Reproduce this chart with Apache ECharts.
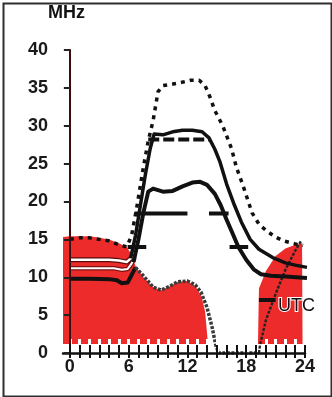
<!DOCTYPE html>
<html><head><meta charset="utf-8">
<script src="https://cdn.jsdelivr.net/npm/echarts@6.0.0/dist/echarts.min.js"></script>
<style>html,body{margin:0;padding:0;background:#fff}#c{width:332px;height:397px}</style>
</head><body><div id="c"></div>
<script>
// ---- axes ----
const xLabelValues = [0, 6, 12, 18, 24];
const hourTicks = [0,1,2,3,4,5,6,7,8,9,10,11,12,13,14,15,16,17,18,19,20,21,22,23,24];
const yMin = 0, yMax = 40, yStep = 5;

// ---- red filled region (UTC hour, MHz) ----
const redArea = [[-0.7,15.3],[0,15.4],[2,15.4],[3,15.2],[4,15],[5,14.5],[5.8,14],[6.3,13],[6.7,11.5],[7.5,10],[8.5,8.7],[9.3,8.3],[10.2,8.8],[11,9.4],[12,9.5],[12.8,8.8],[13.4,7.6],[13.8,5.5],[14.1,1.2],[14.5,null],
  [19.2,1.2],[19.3,8.5],[20,10.8],[21,12.8],[22,13.8],[23,14.3],[23.7,14.5],[23.75,1.2]];

// ---- curves ----
const dottedTop = [[0,15],[1,15.2],[2,15.2],[3,15],[4,14.8],[5,14.3],[5.8,14],[6.3,15.5],[6.8,19],[7.5,24.5],[8.0,28],[8.5,30.7],[9,34.5],[9.5,35.3],[10.5,35.5],[11.3,35.7],[12.3,36],[13.2,36],[13.8,35.3],[14.3,33.8],[14.8,32],[15.6,30],[16.5,27],[17,24.5],[17.7,22],[18.6,18.5],[19.3,17],[20.1,16.1],[21,15.3],[21.8,14.8],[23,14.4],[23.8,14.2]];
const solidUpper = [[6.2,12.5],[6.7,15.5],[7.2,19.5],[7.7,23.5],[8.2,27],[8.6,28.9],[9.5,28.8],[10.5,29.2],[11.5,29.4],[12.5,29.4],[13.5,29.2],[14.2,28.4],[14.8,26.9],[15.3,25.3],[16,22.3],[16.8,19.5],[17.5,17.3],[18.4,15],[19.3,13.7],[20.7,12.6],[22,11.9],[23,11.6],[24.2,11.3]];
const solidMiddle = [[6.5,12],[7,15],[7.5,18.5],[8,21.3],[8.5,21.7],[9.5,21.3],[10.5,21.4],[11.5,22],[12.5,22.5],[13.3,22.6],[14,22.2],[14.8,21],[15.4,19.5],[16,17.6],[16.6,15.8],[17.2,14],[18,12.3],[18.8,11],[19.5,10.4],[20.5,10.2],[22,10.1],[24.2,9.9]];
const whiteUpper = [[0,12.3],[2,12.3],[4,12.3],[5,12.2],[5.8,12],[6.3,12.6],[6.6,13.4]];
const whiteLower = [[0,11.2],[2,11.2],[4.5,11.2],[5.3,11],[5.9,11.1],[6.3,11.8],[6.6,12.6]];
const nightBlack = [[0,9.8],[2,9.8],[4,9.75],[4.8,9.6],[5.3,9.2],[5.9,9.3],[6.3,10.3],[6.7,11.3]];
const grayDotted = [[6.7,11.3],[7.5,10.2],[8.5,8.7],[9.3,8.3],[10.2,8.8],[11,9.4],[12,9.5],[12.8,9],[13.4,8],[14,6],[14.5,3.5],[14.9,1],[15.2,0],[17,0],[19.3,0]];
const risingThin = [[19.3,0],[19.4,1],[20,4.3],[21,7.8],[22,11],[23,13.5],[23.6,14.8]];

// ---- thick horizontal step segments [from hour, to hour, MHz] ----
const steps28 = [[8.0,14.3,28.2]];
const steps18 = [[6.6,12.0,18.4],[14.2,16.2,18.4]];
const steps14 = [[5.9,7.8,14.0],[16.3,18.2,14.0]];
const steps7  = [[19.3,21.0,7.0]];

function segData(segs){
  const out = [];
  segs.forEach((s,i)=>{ if(i) out.push([ (segs[i-1][1]+s[0])/2, null ]); out.push([s[0],s[2]],[s[1],s[2]]); });
  return out;
}

const BLACK = '#111';
const font = '"Liberation Sans", Arial, sans-serif';
function line(data, style, z){
  return {type:'line', data, showSymbol:false, symbol:'none', connectNulls:false, z:z||3,
    lineStyle:Object.assign({color:BLACK, width:3.5, cap:'butt', join:'round'}, style), silent:true};
}

const chart = echarts.init(document.getElementById('c'), null, {renderer:'canvas'});
chart.setOption({
  animation:false,
  backgroundColor:'#fff',
  grid:{left:63, right:27, top:50, bottom:44},
  xAxis:[
    {type:'value', min:-0.7, max:24, position:'bottom', z:10,
     axisLine:{onZero:false, lineStyle:{color:BLACK, width:2.5}},
     axisTick:{customValues:hourTicks, inside:false, length:5, lineStyle:{color:BLACK, width:2}},
     axisLabel:{customValues:xLabelValues, margin:5, fontFamily:font, fontWeight:'bold', fontSize:18, color:'#1a1a1a'},
     splitLine:{show:false}},
    {type:'value', min:-0.7, max:24, position:'bottom', z:8,
     axisLine:{show:false}, axisLabel:{show:false}, splitLine:{show:false},
     axisTick:{customValues:hourTicks, inside:true, length:14, lineStyle:{color:'#fff', width:3}}},
    {type:'value', min:-0.7, max:24, position:'bottom', z:11,
     axisLine:{show:false}, axisLabel:{show:false}, splitLine:{show:false},
     axisTick:{customValues:hourTicks, inside:true, length:8, lineStyle:{color:BLACK, width:2}}}
  ],
  yAxis:[
    {type:'value', min:yMin, max:yMax, interval:yStep, z:10,
     axisLine:{show:true, onZero:true, onZeroAxisIndex:0, lineStyle:{color:'#3a0c0c', width:2}},
     axisTick:{inside:false, length:6, lineStyle:{color:'#222', width:2}},
     axisLabel:{margin:15, fontFamily:font, fontWeight:'bold', fontSize:18, color:'#1a1a1a'},
     splitLine:{show:false}},
    {type:'value', min:yMin, max:yMax, interval:yStep, z:10,
     axisLine:{show:false, onZero:true, onZeroAxisIndex:0},
     axisTick:{inside:true, length:5, lineStyle:{color:'#222', width:2}},
     axisLabel:{show:false}, splitLine:{show:false}}
  ],
  series:[
    {type:'line', data:redArea, symbol:'none', connectNulls:false, z:1, silent:true,
     lineStyle:{width:0}, areaStyle:{color:'#ee2b2b', opacity:1, origin:1.2}},
    line(dottedTop, {type:[4,5], width:3.5}),
    line(whiteLower, {color:'#7a1010', width:4.5}, 2),
    line(whiteLower, {color:'#fff', width:2}, 2),
    line(whiteUpper, {color:'#5a0a0a', width:5}, 2),
    line(whiteUpper, {color:'#fff', width:2.5}, 2),
    line(nightBlack, {width:4}),
    line(grayDotted, {color:'#3a3a3a', type:[3,1.5], width:3.5}),
    line(risingThin, {color:'#222', type:[3,1.5], width:2.4}),
    line(solidUpper, {width:3.5}),
    line(solidMiddle, {width:4}),
    line(segData(steps28), {type:[11,4], width:4}),
    line(segData(steps18), {width:4}),
    line(segData(steps14), {width:4}),
    line(segData(steps7), {width:4})
  ],
  graphic:[
    {type:'rect', left:1, top:1, z:100, shape:{width:328, height:393}, style:{fill:'none', stroke:'#2e2e2e', lineWidth:2}},
    {type:'text', left:48, top:4, z:100, style:{text:'MHz', font:'bold 18px "Liberation Sans", Arial, sans-serif', fill:'#111'}},
    {type:'text', left:277, top:296, z:100, style:{text:'UTC', font:'18px "Liberation Sans", Arial, sans-serif', fill:'#111', stroke:'#fff', lineWidth:2}}
  ]
});
</script></body></html>
